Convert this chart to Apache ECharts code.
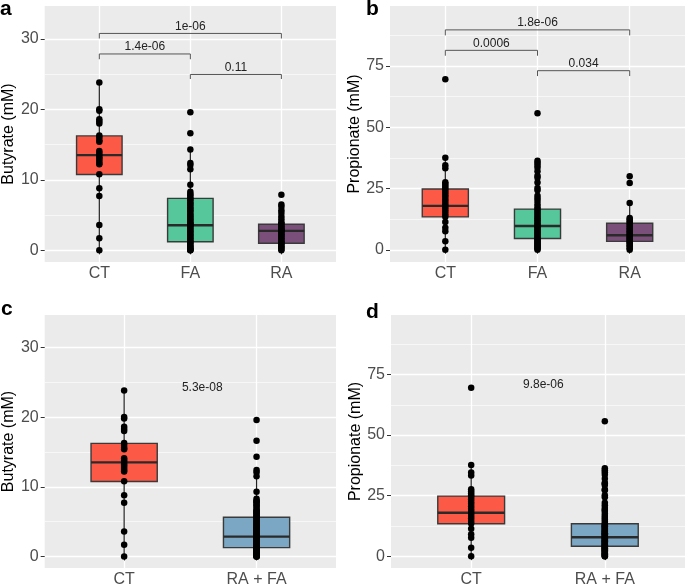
<!DOCTYPE html>
<html><head><meta charset="utf-8">
<script src="https://cdn.jsdelivr.net/npm/echarts@6/dist/echarts.min.js"></script>
<style>html,body{margin:0;padding:0;background:#fff}#c{width:685px;height:588px}</style>
</head><body><div id="c"></div>
<script>
// ---------- categories & ticks ----------
const groupsTop = ['CT', 'FA', 'RA'];
const groupsBottom = ['CT', 'RA + FA'];
const butyrateTicks = [0, 10, 20, 30];
const butyrateMinor = [5, 15, 25];
const propionateTicks = [0, 25, 50, 75];
const propionateMinor = [12.5, 37.5, 62.5, 87.5];

// ---------- individual points (mM) ----------
const butyrateCT = [23.8, 20.0, 19.8, 18.6, 18.3, 18.0, 16.3, 16.0, 15.6, 15.4, 14.1, 13.8, 13.5, 13.2, 13.0, 12.7, 12.4, 12.2, 10.8, 8.8, 7.7, 3.6, 1.7, 0.0];
const butyrateFA = [19.6, 16.6, 14.3, 12.4, 12.1, 11.5, 9.3, 8.3, 8.0, 7.8, 7.5, 7.3, 7.1, 6.8, 6.6, 6.4, 6.1, 5.9, 5.7, 5.5, 5.2, 5.0, 4.8, 4.6, 4.4, 4.2, 4.0, 3.8, 3.7, 3.6, 3.5, 3.3, 3.1, 2.9, 2.7, 2.5, 2.3, 2.1, 1.9, 1.7, 1.5, 1.3, 1.2, 1.0, 0.8, 0.6, 0.5, 0.3, 0.2, 0.1, 0.0, 0.0];
const butyrateRA = [7.9, 6.5, 6.2, 5.7, 5.3, 4.8, 4.4, 4.0, 3.8, 3.6, 3.4, 3.2, 3.0, 2.9, 2.8, 2.7, 2.5, 2.3, 2.1, 1.9, 1.7, 1.5, 1.3, 1.1, 1.0, 0.8, 0.6, 0.4, 0.2, 0.0];
const propionateCT = [69.6, 37.6, 34.5, 33.3, 27.6, 26.8, 26.0, 25.2, 24.4, 23.5, 22.5, 21.6, 20.6, 19.6, 18.6, 17.6, 16.6, 15.6, 14.5, 13.5, 11.3, 9.0, 7.6, 3.5, 0.0];
const propionateFA = [55.7, 36.3, 35.5, 34.6, 33.6, 32.0, 30.2, 29.4, 27.5, 25.2, 24.3, 22.0, 21.0, 19.9, 18.6, 17.5, 16.6, 15.8, 15.0, 14.2, 13.4, 12.7, 12.0, 11.3, 10.6, 10.0, 9.5, 9.0, 8.4, 7.8, 7.2, 6.6, 6.0, 5.4, 4.8, 4.3, 3.8, 3.3, 2.8, 2.3, 1.8, 1.3, 0.8, 0.4, 0.0];
const propionateRA = [30.0, 27.2, 19.1, 13.0, 12.3, 11.6, 10.9, 10.2, 9.5, 8.8, 8.1, 7.4, 6.8, 6.2, 5.6, 5.0, 4.5, 4.0, 3.5, 3.0, 2.4, 1.8, 1.2, 0.6, 0.0];

// ---------- box stats [lower whisker, Q1, median, Q3, upper whisker] ----------
const boxButyrateCT = [0, 10.76, 13.51, 16.23, 23.8];
const boxButyrateFA = [0, 1.23, 3.57, 7.37, 14.3];
const boxButyrateRA = [0, 1.0, 2.76, 3.71, 6.5];
const boxButyrateRAFA = [0, 1.28, 2.85, 5.64, 11.4];
const boxPropionateCT = [0, 13.4, 17.9, 24.8, 37.6];
const boxPropionateFA = [0, 4.6, 9.7, 16.6, 36.3];
const boxPropionateRA = [0, 3.4, 5.9, 10.8, 19.1];
const boxPropionateRAFA = [0, 4.1, 7.8, 13.4, 27.0];

// ---------- comparisons [group from, group to, bracket y, tip y] and p-values ----------
const bracketsA = [[1, 3, 30.76, 30.04], [1, 2, 27.85, 27.1], [2, 3, 24.94, 24.3]];
const pvalsA = ['1e-06', '1.4e-06', '0.11'];
const bracketsB = [[1, 3, 89.75, 87.5], [1, 2, 81.4, 79.2], [2, 3, 73.1, 70.9]];
const pvalsB = ['1.8e-06', '0.0006', '0.034'];
const pvalC = '5.3e-08';
const pvalCPos = [1.59, 24.2];
const pvalD = '9.8e-06';
const pvalDPos = [1.54, 71.0];

// ---------- styling ----------
const FONT = '"Liberation Sans", Arial, sans-serif';
const colCT = '#FC5A47', colFA = '#55C79A', colRA = '#7A4F7A', colRAFA = '#7BA7C4';

const panels = [
  {grid: {left: 43, top: 6, width: 293, height: 256}, cats: groupsTop, ymin: -1.65, ymax: 34.65, ticks: butyrateTicks, minor: butyrateMinor, name: 'Butyrate (mM)',
   boxes: [boxButyrateCT, boxButyrateFA, boxButyrateRA], colors: [colCT, colFA, colRA], pts: [butyrateCT, butyrateFA, butyrateRA], brackets: bracketsA, pvals: pvalsA},
  {grid: {left: 390, top: 6, width: 295, height: 256}, cats: groupsTop, ymin: -5.0, ymax: 99.5, ticks: propionateTicks, minor: propionateMinor, name: 'Propionate (mM)',
   boxes: [boxPropionateCT, boxPropionateFA, boxPropionateRA], colors: [colCT, colFA, colRA], pts: [propionateCT, propionateFA, propionateRA], brackets: bracketsB, pvals: pvalsB},
  {grid: {left: 43, top: 315, width: 293, height: 255}, cats: groupsBottom, ymin: -1.65, ymax: 34.65, ticks: butyrateTicks, minor: butyrateMinor, name: 'Butyrate (mM)',
   boxes: [boxButyrateCT, boxButyrateRAFA], colors: [colCT, colRAFA], pts: [butyrateCT, butyrateFA.concat(butyrateRA)], label: pvalC, labelPos: pvalCPos},
  {grid: {left: 391, top: 315, width: 294, height: 255}, cats: groupsBottom, ymin: -4.9, ymax: 99.6, ticks: propionateTicks, minor: propionateMinor, name: 'Propionate (mM)',
   boxes: [boxPropionateCT, boxPropionateRAFA], colors: [colCT, colRAFA], pts: [propionateCT, propionateFA.concat(propionateRA)], label: pvalD, labelPos: pvalDPos}
];

const grid = [], xAxis = [], yAxis = [], series = [];
panels.forEach((p, i) => {
  grid.push(Object.assign({show: true, backgroundColor: '#EBEBEB', borderWidth: 0}, p.grid));
  const xs = p.cats.map((c, k) => k + 1);
  xAxis.push({
    gridIndex: i, type: 'value', min: 0.4, max: p.cats.length + 0.6,
    axisLine: {show: false},
    axisTick: {show: true, length: 4, lineStyle: {color: '#333', width: 1}, customValues: xs},
    axisLabel: {customValues: xs, formatter: v => p.cats[Math.round(v) - 1], fontSize: 16, color: '#4d4d4d', fontFamily: FONT, margin: 4},
    splitLine: {show: true, lineStyle: {color: '#fff', width: 1.3}}
  });
  yAxis.push({
    gridIndex: i, type: 'value', min: p.ymin, max: p.ymax,
    name: p.name, nameLocation: 'middle', nameGap: 26,
    nameTextStyle: {fontSize: 16, color: '#000', fontFamily: FONT},
    axisLine: {show: false},
    axisTick: {show: true, length: 4, lineStyle: {color: '#333', width: 1}, customValues: p.ticks},
    axisLabel: {customValues: p.ticks, fontSize: 16, color: '#4d4d4d', fontFamily: FONT, margin: 6},
    splitLine: {show: true, lineStyle: {color: '#fff', width: 1.3}}
  });
});
panels.forEach((p, i) => {
  yAxis.push({
    gridIndex: i, type: 'value', min: p.ymin, max: p.ymax,
    axisLine: {show: false},
    axisTick: {show: false, customValues: p.minor},
    axisLabel: {show: false, customValues: p.minor},
    splitLine: {show: true, lineStyle: {color: '#fff', width: 0.6}}
  });
});

panels.forEach((p, i) => {
  // boxes
  series.push({
    type: 'custom', xAxisIndex: i, yAxisIndex: i, z: 2,
    encode: {x: 0, y: [1, 2, 3, 4, 5]},
    data: p.boxes.map((b, k) => [k + 1].concat(b)),
    renderItem: (params, api) => {
      const x = api.value(0);
      const lo = api.coord([x, api.value(1)]), q1 = api.coord([x, api.value(2)]),
            md = api.coord([x, api.value(3)]), q3 = api.coord([x, api.value(4)]),
            hi = api.coord([x, api.value(5)]);
      const l = api.coord([x - 0.25, 0])[0], r = api.coord([x + 0.25, 0])[0];
      const color = p.colors[params.dataIndex];
      return {type: 'group', children: [
        {type: 'line', shape: {x1: lo[0], y1: lo[1], x2: q1[0], y2: q1[1]}, style: {stroke: '#222', lineWidth: 1.2}},
        {type: 'line', shape: {x1: q3[0], y1: q3[1], x2: hi[0], y2: hi[1]}, style: {stroke: '#222', lineWidth: 1.2}},
        {type: 'rect', shape: {x: l, y: q3[1], width: r - l, height: q1[1] - q3[1]}, style: {fill: color, stroke: '#3a3a3a', lineWidth: 1.4}},
        {type: 'line', shape: {x1: l, y1: md[1], x2: r, y2: md[1]}, style: {stroke: '#2a2a2a', lineWidth: 2.4}}
      ]};
    }
  });
  // points
  const pts = [];
  p.pts.forEach((arr, k) => arr.forEach(v => pts.push([k + 1, v])));
  series.push({
    type: 'scatter', xAxisIndex: i, yAxisIndex: i, z: 3,
    symbolSize: 6.5, itemStyle: {color: '#000', opacity: 1}, data: pts, silent: true
  });
  // brackets
  if (p.brackets) {
    series.push({
      type: 'custom', xAxisIndex: i, yAxisIndex: i, z: 4,
      encode: {x: [0, 1], y: [2, 3]},
      data: p.brackets,
      renderItem: (params, api) => {
        const a = api.coord([api.value(0), api.value(2)]);
        const b = api.coord([api.value(1), api.value(2)]);
        const at = api.coord([api.value(0), api.value(3)]);
        const bt = api.coord([api.value(1), api.value(3)]);
        return {type: 'group', children: [
          {type: 'polyline', shape: {points: [at, a, b, bt]}, style: {stroke: '#555', lineWidth: 1, fill: null}},
          {type: 'text', x: (a[0] + b[0]) / 2, y: a[1] - 1,
           style: {text: p.pvals[params.dataIndex], align: 'center', verticalAlign: 'bottom', font: '12px ' + FONT, fill: '#222'}}
        ]};
      }
    });
  }
  if (p.label) {
    series.push({
      type: 'custom', xAxisIndex: i, yAxisIndex: i, z: 4,
      encode: {x: 0, y: 1},
      data: [p.labelPos],
      renderItem: (params, api) => {
        const c = api.coord([api.value(0), api.value(1)]);
        return {type: 'text', x: c[0], y: c[1],
          style: {text: p.label, align: 'center', verticalAlign: 'middle', font: '12px ' + FONT, fill: '#222'}};
      }
    });
  }
});

const chart = echarts.init(document.getElementById('c'), null, {renderer: 'canvas'});
chart.setOption({
  animation: false,
  grid, xAxis, yAxis, series,
  graphic: [
    {type: 'text', left: 0, top: -1, style: {text: 'a', font: 'bold 21px ' + FONT, fill: '#000'}},
    {type: 'text', left: 366, top: -1, style: {text: 'b', font: 'bold 21px ' + FONT, fill: '#000'}},
    {type: 'text', left: 1, top: 299, style: {text: 'c', font: 'bold 21px ' + FONT, fill: '#000'}},
    {type: 'text', left: 366, top: 302, style: {text: 'd', font: 'bold 21px ' + FONT, fill: '#000'}}
  ]
});
</script></body></html>
